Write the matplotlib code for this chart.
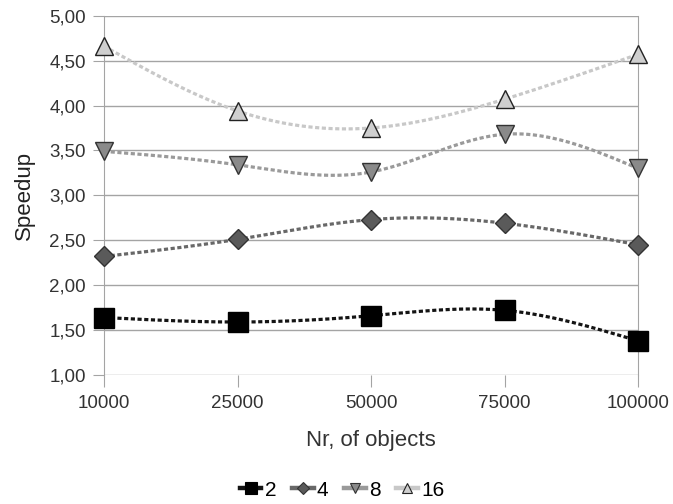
import numpy as np
import matplotlib
matplotlib.use("Agg")
import matplotlib.pyplot as plt

categories = ["10000", "25000", "50000", "75000", "100000"]
series_names = ["2", "4", "8", "16"]
s2 = [1.64, 1.59, 1.66, 1.72, 1.38]
s4 = [2.32, 2.51, 2.73, 2.69, 2.45]
s8 = [3.49, 3.34, 3.26, 3.68, 3.30]
s16 = [4.66, 3.94, 3.75, 4.07, 4.57]
y_ticks = [1.0, 1.5, 2.0, 2.5, 3.0, 3.5, 4.0, 4.5, 5.0]


def natural_spline(x, y, n=200):
    x = np.asarray(x, float)
    y = np.asarray(y, float)
    k = len(x)
    h = np.diff(x)
    A = np.zeros((k, k))
    b = np.zeros(k)
    A[0, 0] = 1
    A[-1, -1] = 1
    for i in range(1, k - 1):
        A[i, i - 1] = h[i - 1]
        A[i, i] = 2 * (h[i - 1] + h[i])
        A[i, i + 1] = h[i]
        b[i] = 3 * ((y[i + 1] - y[i]) / h[i] - (y[i] - y[i - 1]) / h[i - 1])
    c = np.linalg.solve(A, b)
    xs = np.linspace(x[0], x[-1], n)
    ys = np.empty_like(xs)
    for j, xv in enumerate(xs):
        i = min(np.searchsorted(x, xv, side="right") - 1, k - 2)
        dx = xv - x[i]
        bi = (y[i + 1] - y[i]) / h[i] - h[i] * (c[i + 1] + 2 * c[i]) / 3
        di = (c[i + 1] - c[i]) / (3 * h[i])
        ys[j] = y[i] + bi * dx + c[i] * dx ** 2 + di * dx ** 3
    return xs, ys


plt.rcParams["font.family"] = ["Liberation Sans", "DejaVu Sans"]
fig = plt.figure(figsize=(6.73, 5.04), dpi=100)
ax = fig.add_axes([104 / 673, 1 - 375 / 504, 534 / 673, 359.3 / 504])

x = np.arange(len(categories))
styles = [
    (s2, "s", "#000000", "#000000", "#141414", 14.4),
    (s4, "D", "#5a5a5a", "#333333", "#686868", 9.7),
    (s8, "v", "#8a8a8a", "#333333", "#9a9a9a", 13),
    (s16, "^", "#cfcfcf", "#222222", "#c8c8c8", 13),
]
handles = []
for (vals, mk, fc, ec, lc, ms), name in zip(styles, series_names):
    xs, ys = natural_spline(x, vals)
    ax.plot(xs, ys, color=lc, lw=2.3, ls=(0, (1.3, 0.8)), zorder=2,
            clip_on=False)
    ax.plot(x, vals, ls="none", marker=mk, ms=ms, mfc=fc, mec=ec, mew=1.0,
            zorder=3, clip_on=False)
    h, = ax.plot([], [], color=lc, lw=3.2, ls="-", marker=mk, ms=ms * 0.6,
                 mfc=fc, mec=ec, mew=0.8, label=name)
    handles.append(h)

ax.set_xlim(0, len(categories) - 1)
ax.set_ylim(1.0, 5.0)
ax.set_yticks(y_ticks)
ax.set_yticklabels([f"{v:.2f}".replace(".", ",") for v in y_ticks])
ax.set_xticks(x)
ax.set_xticklabels(categories)
ax.yaxis.grid(True, color="#a4a4a4", lw=1.0)
ax.set_axisbelow(True)
for side in ["left", "right"]:
    ax.spines[side].set_color("#a4a4a4")
ax.spines["top"].set_visible(False)
ax.spines["bottom"].set_visible(False)
ax.tick_params(axis="both", colors="#a4a4a4", labelcolor="#333333",
               labelsize=13.5)
ax.tick_params(axis="x", length=8.5, pad=6)
ax.tick_params(axis="y", length=8, pad=5)
ax.set_ylabel("Speedup", fontsize=16, color="#222222", labelpad=10)
ax.set_xlabel("Nr, of objects", fontsize=16, color="#333333", labelpad=13)

fig.legend(handles=handles, loc="center", bbox_to_anchor=(342 / 673, 1 - 490 / 504),
           ncol=4, frameon=False, fontsize=15, handlelength=1.05,
           handletextpad=0.15, columnspacing=0.75)

fig.savefig("out.png", dpi=100)
